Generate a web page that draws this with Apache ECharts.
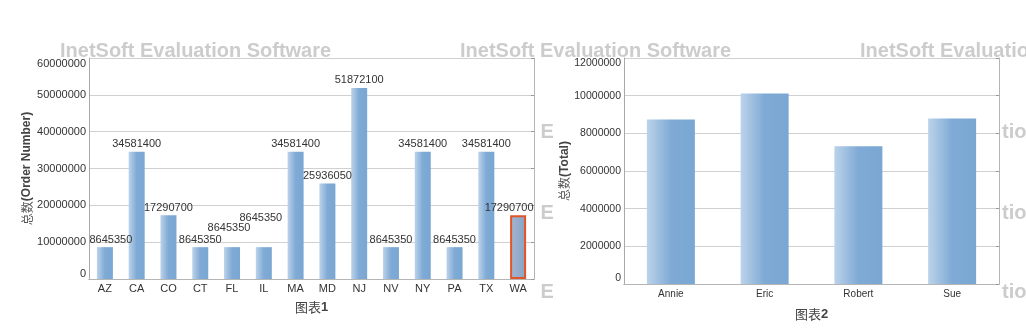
<!DOCTYPE html>
<html>
<head>
<meta charset="utf-8">
<script src="https://cdn.jsdelivr.net/npm/echarts@6/dist/echarts.min.js"></script>
<style>
html,body{margin:0;padding:0;background:#fff;}
#c{width:1026px;height:333px;}
</style>
</head>
<body>
<div id="c"></div>
<script>
// ---- data ----
const states = ['AZ','CA','CO','CT','FL','IL','MA','MD','NJ','NV','NY','PA','TX','WA'];
const orderTotals = [8645350,34581400,17290700,8645350,8645350,8645350,34581400,25936050,51872100,8645350,34581400,8645350,34581400,17290700];
const people = ['Annie','Eric','Robert','Sue'];
const totals = [8740000,10120000,7320000,8790000];
const leftTicks = {min:0,max:60000000,interval:10000000};
const rightTicks = {min:0,max:12000000,interval:2000000};
const highlighted = 'WA';

// ---- style ----
const FONT = '"Liberation Sans", Arial, sans-serif';
const TXT = '#333333';
const barGrad = {type:'linear',x:0,y:0,x2:1,y2:0,colorStops:[
  {offset:0,color:'#bcd3ea'},{offset:0.5,color:'#7faad5'},{offset:1,color:'#79a7d3'}]};
const selGrad = {type:'linear',x:0,y:0,x2:1,y2:0,colorStops:[
  {offset:0,color:'#a3b6d0'},{offset:1,color:'#88a2c6'}]};
// label nudges (InetSoft overlap avoidance / clamping)
const labelNudge = {AZ:[6,0], FL:[-3,-12], IL:[-3,-22], WA:[-9,0]};

const chart = echarts.init(document.getElementById('c'), null, {renderer:'canvas'});

function baseX(grid, cats, fs, margin, title, titleGap){
  return {type:'category', gridIndex:grid, data:cats, position:'bottom',
    axisLine:{show:true,lineStyle:{color:'#a9a9a9'}}, axisTick:{show:false},
    axisLabel:{color:TXT,fontSize:fs,fontFamily:FONT,margin:margin},
    name:title, nameLocation:'middle', nameGap:titleGap,
    nameTextStyle:{rich:{c:{fontSize:13,color:'#444',fontFamily:'"Noto Sans CJK SC", sans-serif'},
                          b:{fontSize:13,color:'#444',fontWeight:'bold',fontFamily:FONT}}}};
}
function topX(grid, cats){
  return {type:'category', gridIndex:grid, data:cats, position:'top',
    axisLine:{show:true,lineStyle:{color:'#b5b5b5'}},
    axisTick:{show:true,alignWithLabel:true,length:3,inside:false,lineStyle:{color:'#b5b5b5'}},
    axisLabel:{show:false}, splitLine:{show:false}};
}
function leftY(grid, t, fs, nameStr, gap){
  return {type:'value', gridIndex:grid, position:'left', min:t.min, max:t.max, interval:t.interval,
    axisLine:{show:true,lineStyle:{color:'#a9a9a9'}}, axisTick:{show:false},
    axisLabel:{color:TXT,fontSize:fs,fontFamily:FONT,margin:3,
      formatter:(v)=>String(v),
      verticalAlignMinLabel:'bottom',verticalAlignMaxLabel:'top'},
    splitLine:{show:true,lineStyle:{color:'#d0d0d0'}},
    name:nameStr, nameLocation:'middle', nameGap:gap, nameRotate:90,
    nameTextStyle:{rich:{c:{fontSize:12,color:'#555',fontFamily:'"Noto Sans CJK SC", sans-serif'},
                          b:{fontSize:12,color:'#444',fontWeight:'bold',fontFamily:FONT}}}};
}
function rightY(grid, t){
  return {type:'value', gridIndex:grid, position:'right', min:t.min, max:t.max, interval:t.interval,
    axisLine:{show:true,lineStyle:{color:'#b5b5b5'}},
    axisTick:{show:true,inside:true,length:3,lineStyle:{color:'#999'}},
    axisLabel:{show:false}, splitLine:{show:false}};
}

const leftData = orderTotals.map((v,i)=>{
  const d = {value:v};
  const n = labelNudge[states[i]];
  if(n) d.label = {offset:n};
  if(states[i]===highlighted) d.itemStyle = {color:selGrad,borderColor:'#e0552a',borderWidth:2};
  return d;
});

function wm(x,y,text){
  return {type:'text', left:x, top:y, silent:true, z:-10,
    style:{text:text, fill:'#cccccc', font:'bold 20px '+FONT}};
}

chart.setOption({
  backgroundColor:'#ffffff',
  animation:false,
  graphic:[
    wm(60,41,'InetSoft Evaluation Software'),
    wm(460,41,'InetSoft Evaluation Software'),
    wm(860,41,'InetSoft Evaluation Software'),
    wm(540.5,122,'E'), wm(540.5,203,'E'), wm(540.5,282,'E'),
    wm(1002,122,'tio'), wm(1002,203,'tio'), wm(1002,282,'tio')
  ],
  grid:[
    {left:89, top:58, width:445, height:221, containLabel:false},
    {left:624, top:58, width:375, height:226, containLabel:false}
  ],
  xAxis:[
    baseX(0, states, 11, 4, '{c|图表}{b|1}', 22),
    topX(0, states),
    baseX(1, people, 10, 5, '{c|图表}{b|2}', 24),
    topX(1, people)
  ],
  yAxis:[
    leftY(0, leftTicks, 11, '{c|总数}{b|(Order Number)}', 54),
    rightY(0, leftTicks),
    leftY(1, rightTicks, 10.5, '{c|总数}{b|(Total)}', 53),
    rightY(1, rightTicks)
  ],
  series:[
    {type:'bar', xAxisIndex:0, yAxisIndex:0, data:leftData, barWidth:16,
      itemStyle:{color:barGrad},
      label:{show:true, position:'top', distance:2, color:TXT, fontSize:11, fontFamily:FONT}},
    {type:'bar', xAxisIndex:2, yAxisIndex:2, data:totals, barWidth:48,
      itemStyle:{color:barGrad}}
  ]
});
</script>
</body>
</html>
